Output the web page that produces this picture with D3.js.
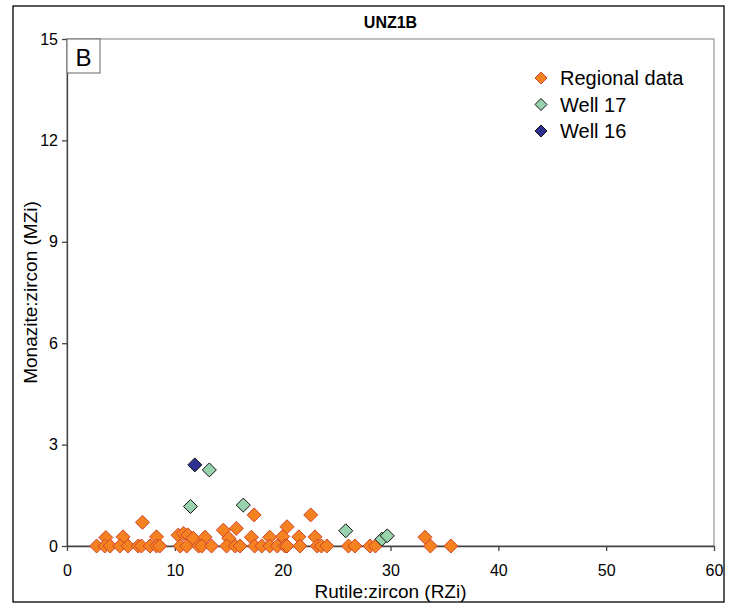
<!DOCTYPE html>
<html><head><meta charset="utf-8">
<script src="https://cdn.jsdelivr.net/npm/d3@7"></script>
<style>body{margin:0;background:#fff}svg{display:block;font-family:"Liberation Sans",Arial,sans-serif}</style>
</head><body><svg id="c" width="732" height="608"></svg>
<script>
const title = "UNZ1B";
const panelLabel = "B";
const xTicks = [0,10,20,30,40,50,60];
const yTicks = [0,3,6,9,12,15];
const seriesNames = ["Regional data","Well 17","Well 16"];
const regionalX = [7.0,3.6,5.2,8.3,10.3,10.8,11.2,11.7,12.8,14.5,15.7,15.0,17.1,18.8,20.0,20.4,21.5,23.0,33.2,22.6,17.35,
  2.75,3.5,4.0,4.9,5.65,6.6,6.9,7.7,8.3,8.6,10.5,11.1,12.2,12.5,13.4,14.8,15.6,16.05,17.4,18.06,18.8,19.5,20.2,20.4,21.6,23.2,23.6,24.1,26.1,26.7,28.1,28.6,33.7,35.6];
const regionalY = [0.7,0.25,0.27,0.27,0.32,0.37,0.33,0.23,0.26,0.47,0.52,0.23,0.26,0.26,0.28,0.57,0.27,0.27,0.26,0.92,0.92,
  0,0,0,0,0,0,0,0,0,0,0,0,0,0,0,0,0,0,0,0,0,0,0,0,0,0,0,0,0,0,0,0,0,0];
const well17X = [11.45,16.35,13.2,25.85,29.2,29.7];
const well17Y = [1.17,1.21,2.25,0.45,0.2,0.3];
const well16X = [11.85];
const well16Y = [2.40];

const svg = d3.select("#c");
const L=67,R=714,T=39,B=546;
const x = d3.scaleLinear().domain([0,60]).range([L,R]);
const y = d3.scaleLinear().domain([0,15]).range([B,T]);

svg.append("rect").attr("x",13).attr("y",6).attr("width",711).attr("height",596)
  .attr("fill","none").attr("stroke","#000").attr("stroke-width",1.3);
svg.append("rect").attr("x",L).attr("y",T).attr("width",R-L).attr("height",B-T)
  .attr("fill","none").attr("stroke","#808080").attr("stroke-width",1);

const xa = svg.append("g").attr("transform",`translate(0,${B})`)
  .call(d3.axisBottom(x).tickValues(xTicks).tickSize(5).tickSizeOuter(0).tickPadding(14));
const ya = svg.append("g").attr("transform",`translate(${L},0)`)
  .call(d3.axisLeft(y).tickValues(yTicks).tickSize(5).tickSizeOuter(0).tickPadding(4));
[xa,ya].forEach(a=>{
  a.selectAll("path").attr("stroke","#444").attr("stroke-width",1.3);
  a.selectAll("line").attr("stroke","#444").attr("stroke-width",1.3);
  a.selectAll("text").attr("font-size",16).attr("fill","#000").attr("font-family","Liberation Sans, Arial, sans-serif");
});

svg.append("text").attr("x",(L+R)/2).attr("y",28).attr("text-anchor","middle")
  .style("font-size","16px").style("font-weight","bold").text(title);
svg.append("text").attr("x",(L+R)/2).attr("y",598).attr("text-anchor","middle")
  .attr("font-size",19).text("Rutile:zircon (RZi)");
svg.append("text").attr("transform",`translate(37,${(T+B)/2}) rotate(-90)`).attr("text-anchor","middle")
  .attr("font-size",19).text("Monazite:zircon (MZi)");

svg.append("rect").attr("x",L).attr("y",T).attr("width",33).attr("height",34)
  .attr("fill","#fff").attr("stroke","#666").attr("stroke-width",1);
svg.append("text").attr("x",L+16.5).attr("y",T+27).attr("text-anchor","middle")
  .attr("font-size",24).text(panelLabel);

const diamond = (cx,cy,r)=>`M${cx},${cy-r}L${cx+r},${cy}L${cx},${cy+r}L${cx-r},${cy}Z`;
const styles = [
  {fill:"#F58220",stroke:"#D2452B"},
  {fill:"#99D3AE",stroke:"#111"},
  {fill:"#2E3192",stroke:"#111"}
];
const sets = [
  regionalX.map((v,i)=>[v,regionalY[i]]),
  well17X.map((v,i)=>[v,well17Y[i]]),
  well16X.map((v,i)=>[v,well16Y[i]])
];
sets.forEach((pts,k)=>{
  svg.append("g").selectAll("path").data(pts).join("path")
    .attr("d",d=>diamond(x(d[0]),y(d[1]),7))
    .attr("fill",styles[k].fill).attr("stroke",styles[k].stroke).attr("stroke-width",1);
});

const lg = svg.append("g");
seriesNames.forEach((n,i)=>{
  const cy = 78 + i*26.5;
  lg.append("path").attr("d",diamond(541,cy,6)).attr("fill",styles[i].fill)
    .attr("stroke",styles[i].stroke).attr("stroke-width",1);
  lg.append("text").attr("x",560).attr("y",cy+7).attr("font-size",20).text(n);
});
</script></body></html>
